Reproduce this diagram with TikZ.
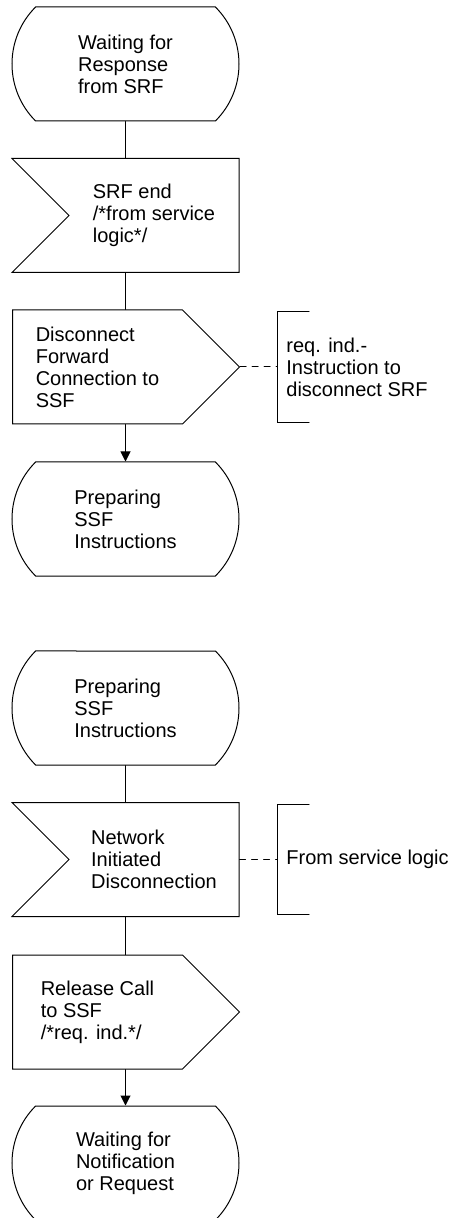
\documentclass[tikz,border=0pt]{standalone}
\usepackage{fontspec}
\setmainfont{Liberation Sans}
\usetikzlibrary{shapes.misc,shapes.symbols,arrows.meta}

\tikzset{
  sdl/.style={draw, line width=0.5pt, minimum width=113.5pt, minimum height=57pt,
    inner sep=0pt, align=left, font=\fontsize{10}{11}\selectfont},
  state/.style={sdl, rounded rectangle, rounded rectangle arc length=90},
  input/.style={sdl, signal, signal from=west, signal to=nowhere, signal pointer angle=90},
  output/.style={sdl, signal, signal to=east, signal pointer angle=90},
  comment/.style={anchor=west, minimum height=55pt, inner xsep=4.5pt, inner ysep=0pt,
    align=left, font=\fontsize{10}{11}\selectfont},
  flow/.style={line width=0.5pt},
  flowarrow/.style={flow, -{Triangle[length=5pt,width=5pt]}},
  dashline/.style={line width=0.5pt, dashed}
}

\begin{document}
\begin{tikzpicture}[x=0.5pt, y=-0.5pt, line cap=round]
		\useasboundingbox (0,0) rectangle (459,1218);
		
		% Upper chart
		\node[state] (wait1) at (125.5,64) {Waiting for\\Response\\from SRF};
		\node[input] (srfEnd) at (154,215.5) {SRF end\\/*from service\\logic*/};
		\node[output] (discFwd) at (97.5,367) {Disconnect\\Forward\\Connection to\\SSF};
		\node[state] (prep1) at (125.5,519) {Preparing\\SSF\\Instructions};
		%
		\node[comment] (reqInd) at (277,367) {req. ind.-\\Instruction to\\disconnect SRF};
		
		% Lower chart
		\node[state] (prep2) at (125.5,708) {Preparing\\SSF\\Instructions};
		\node[input] (netDisc) at (154,859.5) {Network\\Initiated\\Disconnection};
		\node[output] (relCall) at (97.5,1012) {Release Call\\to SSF\\/*req. ind.*/};
		\node[state] (wait2) at (125.5,1163) {Waiting for\\Notification\\or Request};
		%
		\node[comment] (fromSL) at (277,859.5) {From service logic};
		
		% Flow lines
		\draw[flow] (wait1.south) -- (wait1.south |- srfEnd.north);
		\draw[flow] (wait1.south |- srfEnd.south) -- (wait1.south |- discFwd.north);
		\draw[flowarrow] (prep1.north |- discFwd.south) -- (prep1.north);
		\draw[flow] (prep2.south) -- (prep2.south |- netDisc.north);
		\draw[flow] (prep2.south |- netDisc.south) -- (prep2.south |- relCall.north);
		\draw[flowarrow] (wait2.north |- relCall.south) -- (wait2.north);
		
		% Comments
		\draw[dashline] (discFwd.east) -- (reqInd.west);
		\draw[flow] ([xshift=16pt]reqInd.north west) -- (reqInd.north west)
			-- (reqInd.south west) -- ([xshift=16pt]reqInd.south west);
		\draw[dashline] (netDisc.east) -- (fromSL.west);
		\draw[flow] ([xshift=16pt]fromSL.north west) -- (fromSL.north west)
			-- (fromSL.south west) -- ([xshift=16pt]fromSL.south west);
	\end{tikzpicture}
\end{document}
